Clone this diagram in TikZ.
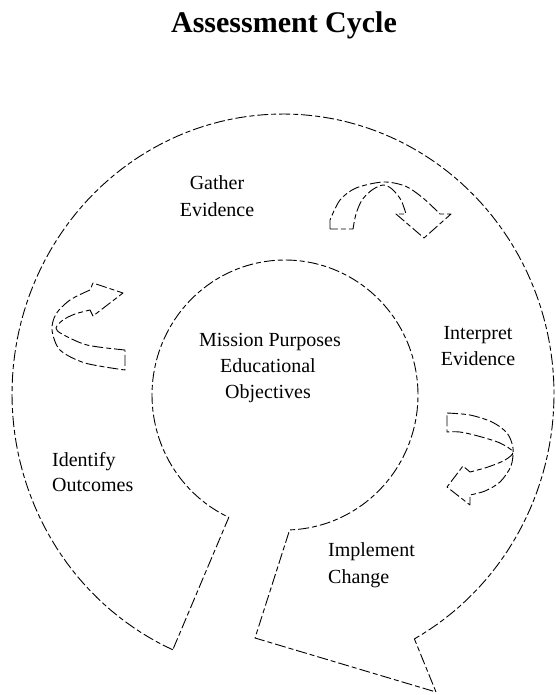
\documentclass[tikz,border=0pt]{standalone}
\usepackage{fontspec}
\setmainfont{Liberation Serif}
\begin{document}
\begin{tikzpicture}[x=1pt,y=-1pt,line join=round,
  ln/.style={line width=0.9pt, dash pattern=on 11pt off 3pt on 5pt off 3pt},
  lbl/.style={font=\fontsize{20}{26}\selectfont, inner sep=0pt},
  ttl/.style={font=\fontsize{30}{36}\selectfont\bfseries, inner sep=0pt}]
\useasboundingbox (0,0) rectangle (555,695);

% title
\node[ttl, anchor=base] (title) at (284,33) {Assessment Cycle};

% spiral band with pointed end
\coordinate (tip) at (436,692);
\coordinate (tl) at (255,638);
\draw[ln] plot[domain=114:421,samples=160,variable=\t] ({283+271*cos(\t)},{394+280*sin(\t)})
  -- (tip) -- (tl)
  -- plot[domain=88:-245,samples=160,variable=\t] ({285+133*cos(\t)},{395+135*sin(\t)})
  -- cycle;

% left curved arrow (Identify -> Gather)
\draw[ln] (125,350) -- plot[smooth] coordinates{(125,350)(87,345)(62,334)(56,328)(63,320)(75,314)(90,310)}
  -- (93,316) -- (123,293) -- (93,283)
  -- plot[smooth] coordinates{(90,290)(70,300)(56,314)(52,330)(60,350)(85,363)(125,370)} -- cycle;

% top curved arrow (Gather -> Interpret)
\draw[ln] (330,229) -- (330,220)
  -- plot[smooth] coordinates{(330,220)(340,200)(356,188)(383,182)(405,186)(423,198)(440,214)}
  -- (451,214) -- (424,238) -- (396,214) -- (406,214)
  -- plot[smooth] coordinates{(406,214)(401,200)(392,189)(383,185)(372,190)(362,200)(356,214)(353,229)}
  -- cycle;

% right curved arrow (Interpret -> Implement)
\draw[ln] (447,413)
  -- plot[smooth] coordinates{(447,413)(470,415)(492,422)(507,433)(513,448)(511,466)(500,482)(485,491)(470,495)}
  -- (470,505) -- (447,487) -- (463,466) -- (470,472)
  -- plot[smooth] coordinates{(470,472)(488,467)(505,460)(513,452)(500,443)(478,436)(460,432)(447,432)}
  -- cycle;

% labels
\node[lbl, anchor=base] (g1) at (217,189) {Gather};
\node[lbl, anchor=base] (g2) at (217,216) {Evidence};
\node[lbl, anchor=base] (i1) at (478,339) {Interpret};
\node[lbl, anchor=base] (i2) at (478,365) {Evidence};
\node[lbl, anchor=base] (m1) at (270,346) {Mission Purposes};
\node[lbl, anchor=base] (m2) at (268,372) {Educational};
\node[lbl, anchor=base] (m3) at (268,398) {Objectives};
\node[lbl, anchor=base west] (o1) at (52,466) {Identify};
\node[lbl, anchor=base west] (o2) at (52,491) {Outcomes};
\node[lbl, anchor=base west] (c1) at (328,556) {Implement};
\node[lbl, anchor=base west] (c2) at (328,583) {Change};
\end{tikzpicture}
\end{document}
